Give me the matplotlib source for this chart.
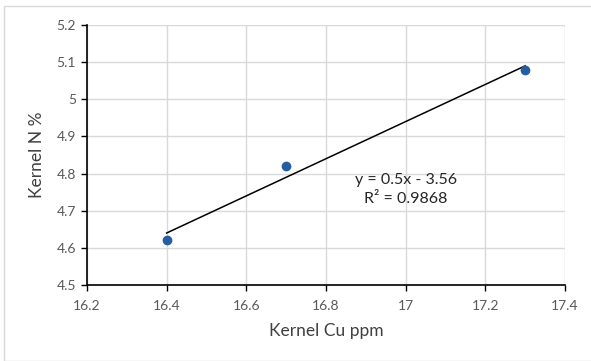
import matplotlib
matplotlib.use("Agg")
import matplotlib.pyplot as plt
from matplotlib.patches import Rectangle
import numpy as np

plt.rcParams['font.family'] = ['Lato', 'DejaVu Sans']

cu_ppm = [16.4, 16.7, 17.3]
n_pct = [4.62, 4.82, 5.08]
x_ticks = [16.2, 16.4, 16.6, 16.8, 17.0, 17.2, 17.4]
x_labels = ['16.2', '16.4', '16.6', '16.8', '17', '17.2', '17.4']
y_ticks = [4.5, 4.6, 4.7, 4.8, 4.9, 5.0, 5.1, 5.2]
y_labels = ['4.5', '4.6', '4.7', '4.8', '4.9', '5', '5.1', '5.2']

fig = plt.figure(figsize=(5.91, 3.61), dpi=100)
# chart frame
fig.patches.append(Rectangle((4 / 591, 0.5 / 361), 1.2, 354.5 / 361, transform=fig.transFigure,
                             fill=False, edgecolor='#d9d9d9', linewidth=1))
ax = fig.add_axes([87 / 591, 1 - 285 / 361, 478 / 591, 260 / 361])

# trendline
slope, intercept = np.polyfit(cu_ppm, n_pct, 1)
xs = np.array([min(cu_ppm), max(cu_ppm)])
ax.plot(xs, slope * xs + intercept, color='black', linewidth=1.1, zorder=2)
ax.plot(cu_ppm, n_pct, 'o', color='#255e9e', markersize=6, zorder=3)

pred = slope * np.array(cu_ppm) + intercept
r2 = 1 - np.sum((np.array(n_pct) - pred) ** 2) / np.sum((np.array(n_pct) - np.mean(n_pct)) ** 2)
ax.text(17.0, 4.783, f"y = {slope:.1f}x - {abs(intercept):.2f}", ha='center', va='center',
        fontsize=11.5, color='#262626')
ax.text(17.0, 4.732, f"R² = {r2:.4f}", ha='center', va='center', fontsize=11.5, color='#262626')

ax.set_xlim(16.2, 17.4)
ax.set_ylim(4.5, 5.2)
ax.set_xticks(x_ticks)
ax.set_xticklabels(x_labels)
ax.set_yticks(y_ticks)
ax.set_yticklabels(y_labels)
ax.grid(True, color='#d9d9d9', linewidth=1)
ax.set_axisbelow(True)
for s in ['top', 'right']:
    ax.spines[s].set_visible(False)
for s in ['left', 'bottom']:
    ax.spines[s].set_color('black')
    ax.spines[s].set_linewidth(1.2)
ax.tick_params(axis='both', direction='out', length=4, width=1, color='black',
               labelsize=10, labelcolor='#595959')
ax.tick_params(axis='x', pad=7)
ax.tick_params(axis='y', pad=4)
ax.set_xlabel('Kernel Cu ppm', fontsize=12.5, color='#404040', labelpad=8)
ax.set_ylabel('Kernel N %', fontsize=12.5, color='#404040', labelpad=8)

fig.savefig('out.png', dpi=100)
